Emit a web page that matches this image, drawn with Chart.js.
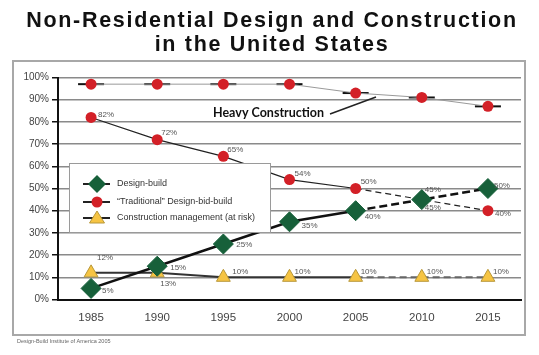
<!DOCTYPE html>
<html>
<head>
<meta charset="utf-8">
<script src="https://cdn.jsdelivr.net/npm/chart.js@4/dist/chart.umd.min.js"></script>
<style>
html,body{margin:0;padding:0;background:#fff;}
#wrap{width:539px;height:355px;position:relative;}
</style>
</head>
<body>
<div id="wrap"><canvas id="c" width="539" height="355"></canvas></div>
<script>
const years = ['1985','1990','1995','2000','2005','2010','2015'];
const designBuild = [5, 15, 25, 35, 40, 45, 50];
const traditionalDBB = [82, 72, 64.5, 54, 50, 45, 40];
const cmAtRisk = [12, 12, 10, 10, 10, 10, 10];
const heavyConstruction = [97, 97, 97, 97, 93, 91, 87];
const designBuildLabels = ['5%','15%','25%','35%','40%','45%','50%'];
const traditionalLabels = ['82%','72%','65%','54%','50%','45%','40%'];
const cmLabels = ['12%','13%','10%','10%','10%','10%','10%'];
const yTicks = [0,10,20,30,40,50,60,70,80,90,100];
const titleLines = ['Non-Residential Design and Construction','in the United States'];
const legendNames = ['Design-build','\u201CTraditional\u201D Design-bid-build','Construction management (at risk)'];
const sourceText = 'Design-Build Institute of America 2005';
const annotationText = 'Heavy Construction';

const GREEN = '#17603a', RED = '#d32027', YELLOW = '#f6c443';
const FONT = '"Liberation Sans", Arial, sans-serif';

const dashAfter = (arr) => ctx => ctx.p0DataIndex >= 4 ? arr : undefined;

// label offsets [dx, dy] per point
const labelOffsets = {
  0: [[11,2],[13,2],[13,1],[12,4],[9,6],[3,-10],[6,-3]],
  1: [[7,-3],[4,-7],[4,-7],[5,-6],[5,-7],[3,8],[7,3]],
  2: [[6,-15],[3,11],[9,-6],[5,-6],[5,-6],[5,-6],[5,-6]]
};
const labelTexts = {0: designBuildLabels, 1: traditionalLabels, 2: cmLabels};

const framePlugin = {
  id: 'frame',
  beforeDraw(chart) {
    const ctx = chart.ctx;
    ctx.save();
    ctx.fillStyle = '#fff';
    ctx.fillRect(0,0,chart.width,chart.height);
    ctx.strokeStyle = '#a8a8a8';
    ctx.lineWidth = 2;
    ctx.strokeRect(13, 61, 512, 274);
    // title
    ctx.fillStyle = '#111';
    ctx.font = 'bold 21.5px ' + FONT;
    ctx.textAlign = 'center';
    ctx.textBaseline = 'alphabetic';
    ctx.letterSpacing = '1.7px';
    ctx.fillText(titleLines[0], 272, 27);
    ctx.fillText(titleLines[1], 272, 51);
    ctx.letterSpacing = '0px';
    // source
    ctx.fillStyle = '#666';
    ctx.font = '5.5px ' + FONT;
    ctx.textAlign = 'left';
    ctx.textBaseline = 'middle';
    ctx.fillText(sourceText, 17, 341);
    ctx.restore();
  },
  beforeDatasetsDraw(chart) {
    const ctx = chart.ctx;
    const meta = chart.getDatasetMeta(3);
    ctx.save();
    ctx.strokeStyle = '#111';
    ctx.lineWidth = 2;
    meta.data.forEach(p => {
      ctx.beginPath();
      ctx.moveTo(p.x - 13, p.y);
      ctx.lineTo(p.x + 13, p.y);
      ctx.stroke();
    });
    ctx.restore();
  },
  afterDatasetsDraw(chart) {
    const ctx = chart.ctx;
    ctx.save();
    // legend box
    ctx.fillStyle = '#fff';
    ctx.fillRect(69, 163, 201, 69);
    ctx.strokeStyle = '#9a9a9a';
    ctx.lineWidth = 1;
    ctx.strokeRect(69.5, 163.5, 201, 69);
    const rows = [184, 202, 218];
    rows.forEach((y, i) => {
      ctx.strokeStyle = '#222';
      ctx.lineWidth = 2;
      ctx.beginPath(); ctx.moveTo(83, y); ctx.lineTo(110, y); ctx.stroke();
      const x = 97;
      ctx.beginPath();
      if (i === 0) {
        const r = 9;
        ctx.moveTo(x, y - r); ctx.lineTo(x + r, y); ctx.lineTo(x, y + r); ctx.lineTo(x - r, y); ctx.closePath();
        ctx.fillStyle = GREEN; ctx.fill();
      } else if (i === 1) {
        ctx.arc(x, y, 5.5, 0, Math.PI * 2);
        ctx.fillStyle = RED; ctx.fill();
      } else {
        ctx.moveTo(x, y - 7); ctx.lineTo(x + 7.5, y + 5); ctx.lineTo(x - 7.5, y + 5); ctx.closePath();
        ctx.fillStyle = YELLOW; ctx.fill();
        ctx.strokeStyle = '#b8983a'; ctx.lineWidth = 1; ctx.stroke();
      }
      ctx.fillStyle = '#333';
      ctx.font = '9px ' + FONT;
      ctx.textAlign = 'left';
      ctx.textBaseline = 'middle';
      ctx.fillText(legendNames[i], 117, y);
    });
    // data labels
    ctx.fillStyle = '#555';
    ctx.font = '8px ' + FONT;
    ctx.textAlign = 'left';
    ctx.textBaseline = 'middle';
    [0,1,2].forEach(di => {
      const meta = chart.getDatasetMeta(di);
      meta.data.forEach((p, j) => {
        const o = labelOffsets[di][j];
        ctx.fillText(labelTexts[di][j], p.x + o[0], p.y + o[1]);
      });
    });
    // annotation
    ctx.fillStyle = '#111';
    ctx.font = 'bold 12.5px Lato, "Open Sans", sans-serif';
    ctx.textBaseline = 'alphabetic';
    ctx.fillText(annotationText, 213, 117);
    ctx.strokeStyle = '#222';
    ctx.lineWidth = 1.5;
    ctx.beginPath(); ctx.moveTo(330, 114); ctx.lineTo(376, 97); ctx.stroke();
    ctx.restore();
  }
};

new Chart(document.getElementById('c'), {
  type: 'line',
  data: {
    labels: years,
    datasets: [
      {
        label: legendNames[0], data: designBuild,
        borderColor: '#111', borderWidth: 2.5,
        pointStyle: 'rectRot', pointRadius: 10,
        pointBackgroundColor: GREEN, pointBorderColor: GREEN, pointBorderWidth: 1,
        segment: { borderDash: dashAfter([8,4]) }
      },
      {
        label: legendNames[1], data: traditionalDBB,
        borderColor: '#222', borderWidth: 1.2,
        pointStyle: 'circle', pointRadius: 5.5,
        pointBackgroundColor: RED, pointBorderColor: RED, pointBorderWidth: 0,
        segment: { borderDash: dashAfter([6,4]) }
      },
      {
        label: legendNames[2], data: cmAtRisk,
        borderColor: '#333', borderWidth: 2,
        pointStyle: 'triangle', pointRadius: 8,
        pointBackgroundColor: YELLOW, pointBorderColor: '#b8983a', pointBorderWidth: 1,
        segment: { borderDash: dashAfter([7,4]), borderColor: ctx => ctx.p0DataIndex >= 4 ? '#666' : undefined }
      },
      {
        label: annotationText, data: heavyConstruction,
        borderColor: '#9a9a9a', borderWidth: 1,
        pointStyle: 'circle', pointRadius: 5.5,
        pointBackgroundColor: RED, pointBorderColor: RED, pointBorderWidth: 0
      }
    ]
  },
  options: {
    responsive: false,
    animation: false,
    devicePixelRatio: 1,
    layout: { padding: { left: 13, right: 18, top: 77.5, bottom: 20 } },
    plugins: { legend: { display: false }, title: { display: false }, tooltip: { enabled: false } },
    scales: {
      x: {
        offset: true,
        grid: { drawOnChartArea: false, drawTicks: false },
        border: { color: '#111', width: 2 },
        ticks: { color: '#444', font: { family: FONT, size: 11.5 }, padding: 11 },
        afterFit: s => { s.height = 35.5; }
      },
      y: {
        min: 0, max: 100,
        afterBuildTicks: s => { s.ticks = yTicks.map(v => ({ value: v })); },
        grid: { color: '#8a8a8a', lineWidth: 1.5, tickColor: '#111', tickLength: 6 },
        border: { color: '#111', width: 2 },
        ticks: { color: '#444', font: { family: FONT, size: 10 }, padding: 3, callback: v => v + '%' },
        afterFit: s => { s.width = 45; }
      }
    }
  },
  plugins: [framePlugin]
});
</script>
</body>
</html>
